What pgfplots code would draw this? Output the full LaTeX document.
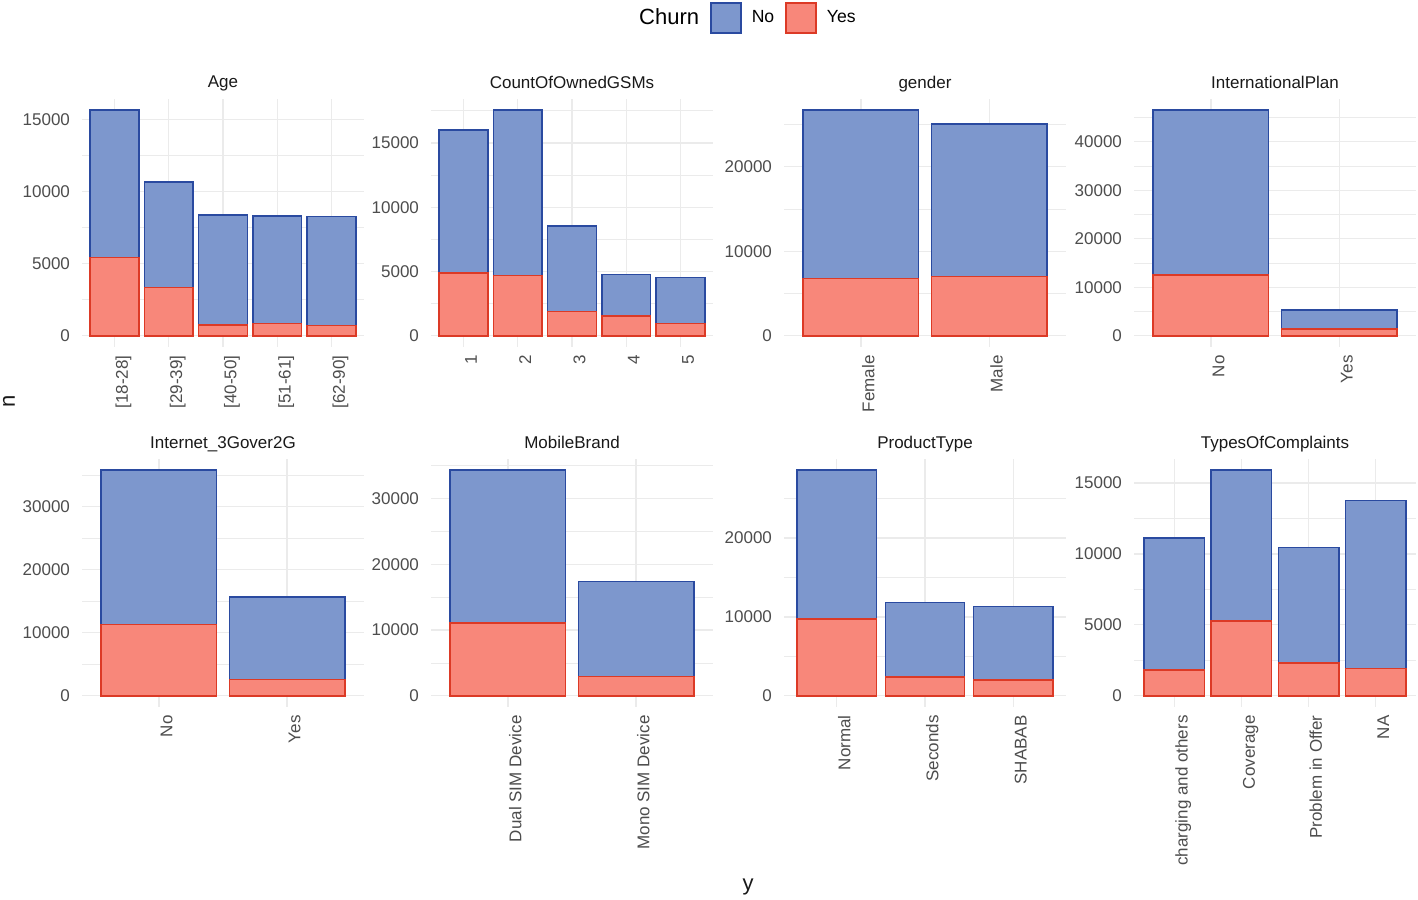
\documentclass[border=0pt]{standalone}
\usepackage{fontspec}
\setmainfont{Liberation Sans}
\usepackage{pgfplots}
\pgfplotsset{compat=1.18}

\definecolor{nofill}{HTML}{7D97CD}
\definecolor{nodraw}{HTML}{2A4AA0}
\definecolor{yesfill}{HTML}{F8877A}
\definecolor{yesdraw}{HTML}{DC3A26}
\definecolor{gridc}{HTML}{EBEBEB}
\definecolor{tickc}{HTML}{4D4D4D}

\pgfplotsset{
  facet/.style={
    scale only axis, width=141pt, height=124pt, anchor=south west,
    ybar stacked, bar width=0.9,
    axis line style={draw=none},
    major tick length=0pt, minor tick length=0pt,
    xmajorgrids, ymajorgrids, yminorgrids,
    major grid style={gridc, line width=0.6pt},
    minor grid style={gridc, line width=0.3pt},
    xtick=data,
    tick label style={font=\fontsize{8.5}{10}\selectfont, text=tickc},
    /pgf/number format/assume math mode=true,
    yticklabel style={/pgf/number format/fixed, /pgf/number format/1000 sep={}, xshift=-2.5pt},
    scaled y ticks=false,
    xticklabel style={rotate=90, anchor=north east, inner xsep=4pt, inner ysep=0pt,
      text height=6.5pt, text depth=2pt},
    title style={font=\fontsize{8.5}{10}\selectfont, text=black!90,
      at={(0.5,1)}, anchor=base, yshift=-0.5pt},
  },
  yesbar/.style={fill=yesfill, draw=yesdraw, line width=0.8pt},
  nobar/.style={fill=nofill, draw=nodraw, line width=0.8pt},
}

\begin{document}
\begin{tikzpicture}
\path[use as bounding box] (0,0) rectangle (709pt,-449.5pt);

% row 1
\begin{axis}[facet, at={(41pt,-173.5pt)}, title={Age},
  xmin=0.4, xmax=5.6, ymin=-782.5, ymax=16432.5,
  ytick={0,5000,10000,15000}, minor ytick={2500,7500,12500},
  xticklabels={{[18-28]},{[29-39]},{[40-50]},{[51-61]},{[62-90]}},
  legend style={at={(2.349,1.327)}, anchor=center, draw=none, fill=none,
    legend columns=-1, font=\fontsize{8.8}{10}\selectfont,
    /tikz/every odd column/.append style={column sep=3pt},
    /tikz/every even column/.append style={column sep=3.5pt}},
  legend image code/.code={\draw[#1] (0pt,-7.5pt) rectangle (15pt,7.5pt);}]
\addplot[yesbar, forget plot] coordinates {(1,5420)(2,3340)(3,740)(4,860)(5,720)};
\addplot[nobar, forget plot] coordinates {(1,10230)(2,7330)(3,7650)(4,7460)(5,7560)};
\addlegendimage{empty legend}
\addlegendentry{\fontsize{11}{13}\selectfont Churn}
\addlegendimage{nobar}
\addlegendentry{No}
\addlegendimage{yesbar}
\addlegendentry{Yes}
\end{axis}

\begin{axis}[facet, at={(215.5pt,-173.5pt)}, title={CountOfOwnedGSMs},
  xmin=0.4, xmax=5.6, ymin=-877, ymax=18417,
  ytick={0,5000,10000,15000}, minor ytick={2500,7500,12500,17500},
  xticklabels={1,2,3,4,5}]
\addplot[yesbar] coordinates {(1,4860)(2,4700)(3,1870)(4,1540)(5,960)};
\addplot[nobar] coordinates {(1,11140)(2,12840)(3,6680)(4,3210)(5,3560)};
\end{axis}

\begin{axis}[facet, at={(392pt,-173.5pt)}, title={gender},
  xmin=0.4, xmax=2.6, ymin=-1335, ymax=28035,
  ytick={0,10000,20000}, minor ytick={5000,15000,25000},
  xticklabels={Female,Male}]
\addplot[yesbar] coordinates {(1,6800)(2,7000)};
\addplot[nobar] coordinates {(1,19900)(2,18100)};
\end{axis}

\begin{axis}[facet, at={(567pt,-173.5pt)}, title={InternationalPlan},
  xmin=0.4, xmax=2.6, ymin=-2325, ymax=48825,
  ytick={0,10000,20000,30000,40000}, minor ytick={5000,15000,25000,35000,45000},
  xticklabels={No,Yes}]
\addplot[yesbar] coordinates {(1,12550)(2,1450)};
\addplot[nobar] coordinates {(1,33950)(2,3850)};
\end{axis}

% row 2
\begin{axis}[facet, at={(41pt,-353.5pt)}, title={Internet\_3Gover2G},
  xmin=0.4, xmax=2.6, ymin=-1790, ymax=37590,
  ytick={0,10000,20000,30000}, minor ytick={5000,15000,25000,35000},
  xticklabels={No,Yes}]
\addplot[yesbar] coordinates {(1,11300)(2,2550)};
\addplot[nobar] coordinates {(1,24500)(2,13150)};
\end{axis}

\begin{axis}[facet, at={(215.5pt,-353.5pt)}, title={MobileBrand},
  xmin=0.4, xmax=2.6, ymin=-1715, ymax=36015,
  ytick={0,10000,20000,30000}, minor ytick={5000,15000,25000,35000},
  xticklabels={Dual SIM Device,Mono SIM Device}]
\addplot[yesbar] coordinates {(1,11050)(2,2900)};
\addplot[nobar] coordinates {(1,23250)(2,14500)};
\end{axis}

\begin{axis}[facet, at={(392pt,-353.5pt)}, title={ProductType},
  xmin=0.4, xmax=3.6, ymin=-1430, ymax=30030,
  ytick={0,10000,20000}, minor ytick={5000,15000,25000},
  xticklabels={Normal,Seconds,SHABAB}]
\addplot[yesbar] coordinates {(1,9700)(2,2370)(3,2030)};
\addplot[nobar] coordinates {(1,18900)(2,9480)(3,9270)};
\end{axis}

\begin{axis}[facet, at={(567pt,-353.5pt)}, title={TypesOfComplaints},
  xmin=0.4, xmax=4.6, ymin=-795, ymax=16695,
  ytick={0,5000,10000,15000}, minor ytick={2500,7500,12500},
  xticklabels={charging and others,Coverage,Problem in Offer,NA}]
\addplot[yesbar] coordinates {(1,1830)(2,5280)(3,2300)(4,1930)};
\addplot[nobar] coordinates {(1,9300)(2,10620)(3,8150)(4,11850)};
\end{axis}

\node[rotate=90, font=\fontsize{11}{13}\selectfont, text=black!90] at (4.5pt,-200.5pt) {n};
\node[font=\fontsize{11}{13}\selectfont, text=black!90] at (374pt,-443.5pt) {y};
\end{tikzpicture}
\end{document}
